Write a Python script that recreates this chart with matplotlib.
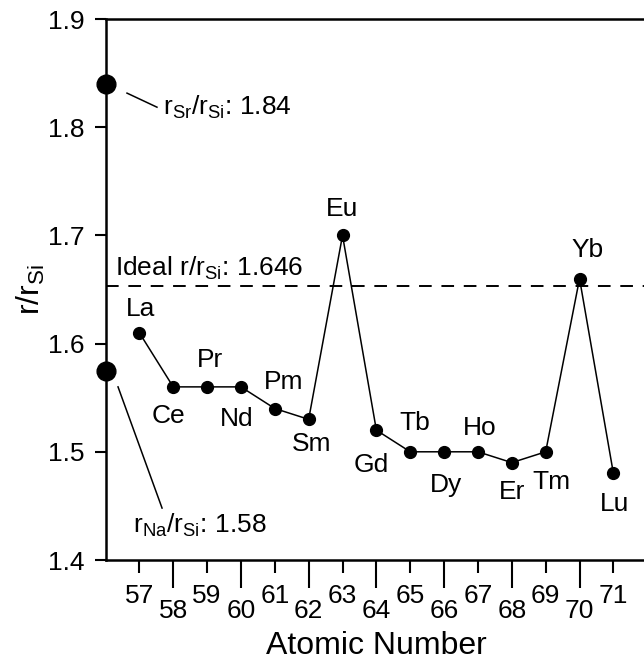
import matplotlib
matplotlib.use("Agg")
import matplotlib.pyplot as plt

plt.rcParams['font.family'] = ['Liberation Sans', 'DejaVu Sans']
plt.rcParams['mathtext.fontset'] = 'custom'
plt.rcParams['mathtext.rm'] = 'Liberation Sans'
plt.rcParams['mathtext.it'] = 'Liberation Sans'

# Data
elements = ['La', 'Ce', 'Pr', 'Nd', 'Pm', 'Sm', 'Eu', 'Gd', 'Tb', 'Dy', 'Ho', 'Er', 'Tm', 'Yb', 'Lu']
atomic_numbers = [57, 58, 59, 60, 61, 62, 63, 64, 65, 66, 67, 68, 69, 70, 71]
ratios = [1.61, 1.56, 1.56, 1.56, 1.54, 1.53, 1.70, 1.52, 1.50, 1.50, 1.50, 1.49, 1.50, 1.66, 1.48]
sr_ratio = 1.84
na_ratio = 1.575
ideal_ratio = 1.653
ideal_label = 'Ideal r/r$_{\\mathrm{Si}}$: 1.646'
sr_label = 'r$_{\\mathrm{Sr}}$/r$_{\\mathrm{Si}}$: 1.84'
na_label = 'r$_{\\mathrm{Na}}$/r$_{\\mathrm{Si}}$: 1.58'
y_ticks = [1.4, 1.5, 1.6, 1.7, 1.8, 1.9]

# label offsets in points (layout)
label_offsets = [(0.7, 17), (-3.6, -21), (2, 19), (-3, -23), (6, 19), (2, -18),
                 (0, 19), (-3.6, -25), (3, 21), (1.4, -24), (1.4, 17), (0, -21),
                 (4, -22), (6, 21), (1, -22)]

fig = plt.figure(figsize=(6.44, 6.69), dpi=100)
W, H = 644, 669
px_per_unit = 33.86
left_px, top_px, bot_px = 105.5, 19, 560
ax = fig.add_axes([left_px / W, (H - bot_px) / H, 16 * px_per_unit / W, (bot_px - top_px) / H])

ax.plot(atomic_numbers, ratios, color='black', lw=1.1, marker='o', ms=8.5, zorder=3)
ax.plot([56], [sr_ratio], 'o', color='black', ms=13.5, clip_on=False, zorder=4)
ax.plot([56], [na_ratio], 'o', color='black', ms=13.5, clip_on=False, zorder=4)

ax.axhline(ideal_ratio, color='black', lw=1.4, dashes=(6.5, 5))

fs = 19
for el, x, y, off in zip(elements, atomic_numbers, ratios, label_offsets):
    ax.annotate(el, (x, y), xytext=off, textcoords='offset points',
                ha='center', va='center', fontsize=fs)

ax.text(56.28, 1.663, ideal_label, fontsize=fs, ha='left', va='baseline')

ax.plot([56.635, 57.52], [1.8315, 1.8185], color='black', lw=1.1)
ax.text(57.70, 1.811, sr_label, fontsize=fs, ha='left', va='baseline')

ax.plot([56.37, 57.67], [1.560, 1.448], color='black', lw=1.1)
ax.text(56.81, 1.425, na_label, fontsize=fs, ha='left', va='baseline')

ax.set_xlim(56, 72)
ax.set_ylim(1.4, 1.9)

ax.set_yticks(y_ticks)
ax.set_yticklabels([f'{v:.1f}' for v in y_ticks])

even = [n for n in atomic_numbers if n % 2 == 0]
odd = [n for n in atomic_numbers if n % 2 == 1]
ax.set_xticks(even)
ax.set_xticklabels([str(n) for n in even])
ax.set_xticks(odd, minor=True)
ax.set_xticklabels([str(n) for n in odd], minor=True)

ax.tick_params(axis='x', which='major', direction='out', length=20, width=1.5, labelsize=fs, pad=8)
ax.tick_params(axis='x', which='minor', direction='out', length=9.5, width=1.5, labelsize=fs, pad=8)
ax.tick_params(axis='y', which='major', direction='out', length=8, width=1.5, labelsize=fs, pad=7)
ax.tick_params(axis='y', which='minor', left=False)

for s in ['left', 'bottom', 'top']:
    ax.spines[s].set_linewidth(1.8)
ax.spines['right'].set_visible(False)

ax.set_xlabel('Atomic Number', fontsize=23, labelpad=6)
ax.set_ylabel('r/r$_{\\mathrm{Si}}$', fontsize=23, labelpad=1)

fig.savefig('out.png', dpi=100)
